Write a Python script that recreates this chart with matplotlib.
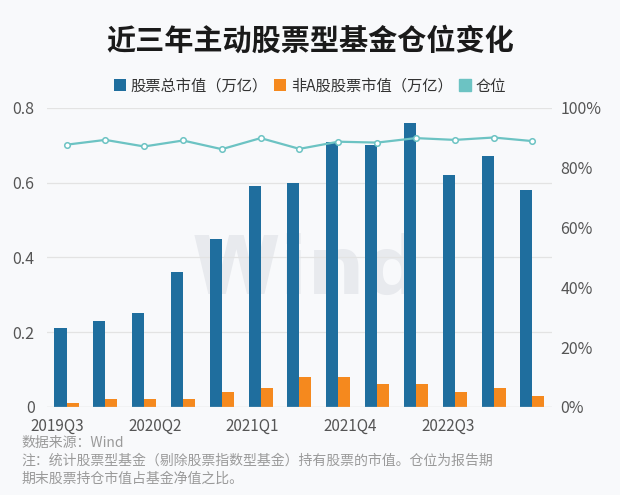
import numpy as np
import matplotlib.pyplot as plt
from matplotlib.ticker import FuncFormatter
from matplotlib.patches import Patch

plt.rcParams['font.family'] = ['Noto Sans CJK SC', 'DejaVu Sans']

# data
quarters = ['2019Q3', '2019Q4', '2020Q1', '2020Q2', '2020Q3', '2020Q4', '2021Q1',
            '2021Q2', '2021Q3', '2021Q4', '2022Q1', '2022Q2', '2022Q3']
total_mv = [0.21, 0.23, 0.25, 0.36, 0.45, 0.59, 0.60, 0.71, 0.70, 0.76, 0.62, 0.67, 0.58]
non_a_mv = [0.01, 0.02, 0.02, 0.02, 0.04, 0.05, 0.08, 0.08, 0.06, 0.06, 0.04, 0.05, 0.03]
position = [87.7, 89.3, 87.1, 89.1, 86.2, 89.9, 86.3, 88.7, 88.4, 89.9, 89.3, 90.1, 88.9]
shown_labels = ['2019Q3', '2020Q2', '2021Q1', '2021Q4', '2022Q3']

blue = '#1f6e9e'
orange = '#f5891e'
teal = '#6cc3c3'
bg = '#f8f9fb'

fig = plt.figure(figsize=(6.2, 4.95), dpi=100, facecolor=bg)
ax = fig.add_axes([0.076, 0.178, 0.814, 0.604])
ax.set_facecolor(bg)

x = np.arange(len(quarters))
w = 0.31
ax.bar(x - w / 2, total_mv, w, color=blue, label='股票总市值（万亿）', zorder=3)
ax.bar(x + w / 2, non_a_mv, w, color=orange, label='非A股股票市值（万亿）', zorder=3)
ax.set_ylim(0, 0.8)
ax.set_xlim(-0.5, 12.5)
ax.set_yticks([0, 0.2, 0.4, 0.6, 0.8])
ax.yaxis.set_major_formatter(FuncFormatter(lambda v, p: '0' if v == 0 else f'{v:.1f}'))
ax.grid(axis='y', color='#e3e3e3', lw=0.9, zorder=0)
for s in ax.spines.values():
    s.set_visible(False)
ax.axhline(0, color='#d8d8d8', lw=0.9, zorder=4)

# labels in the reference sit a bit off the category centres
lab_pos = -0.25 + 2.52 * np.arange(len(shown_labels))
ax.set_xticks(lab_pos)
ax.set_xticklabels(shown_labels)
ax.tick_params(axis='both', length=0, labelsize=11.5, colors='#555555')
ax.tick_params(axis='x', pad=8, labelsize=11)
ax.tick_params(axis='y', pad=9)

ax2 = ax.twinx()
ax2.plot(x, position, color=teal, lw=1.6, marker='o', ms=4, mfc='white',
         mec=teal, mew=1.1, label='仓位', zorder=5)
ax2.set_ylim(0, 100)
ax2.set_yticks([0, 20, 40, 60, 80, 100])
ax2.yaxis.set_major_formatter(FuncFormatter(lambda v, p: f'{v:.0f}%'))
ax2.tick_params(axis='y', length=0, labelsize=11.5, colors='#555555', pad=6)
for s in ax2.spines.values():
    s.set_visible(False)

# faint watermark
ax.text(6.2, 0.36, 'Wind', fontsize=58, fontweight='bold',
        color='#e8eaee', ha='center', va='center', zorder=1, family='DejaVu Sans')

h1, l1 = ax.get_legend_handles_labels()
h2 = [Patch(color=teal)]
fig.legend(h1 + h2, l1 + ['仓位'], loc='center', bbox_to_anchor=(0.5, 0.826), ncol=3,
           frameon=False, fontsize=11, handlelength=0.8, handleheight=0.8,
           handletextpad=0.3, columnspacing=0.4, labelcolor='#333333')

fig.text(0.5, 0.918, '近三年主动股票型基金仓位变化', ha='center', va='center',
         fontsize=21, fontweight='bold', color='#1a1a1a')

note_color = '#9a9a9a'
fig.text(0.035, 0.105, '数据来源：Wind', fontsize=10, color=note_color, va='center')
fig.text(0.035, 0.069, '注：统计股票型基金（剔除股票指数型基金）持有股票的市值。仓位为报告期',
         fontsize=10, color=note_color, va='center')
fig.text(0.035, 0.033, '期末股票持仓市值占基金净值之比。', fontsize=10, color=note_color, va='center')

fig.savefig('out.png', dpi=100, facecolor=bg)
